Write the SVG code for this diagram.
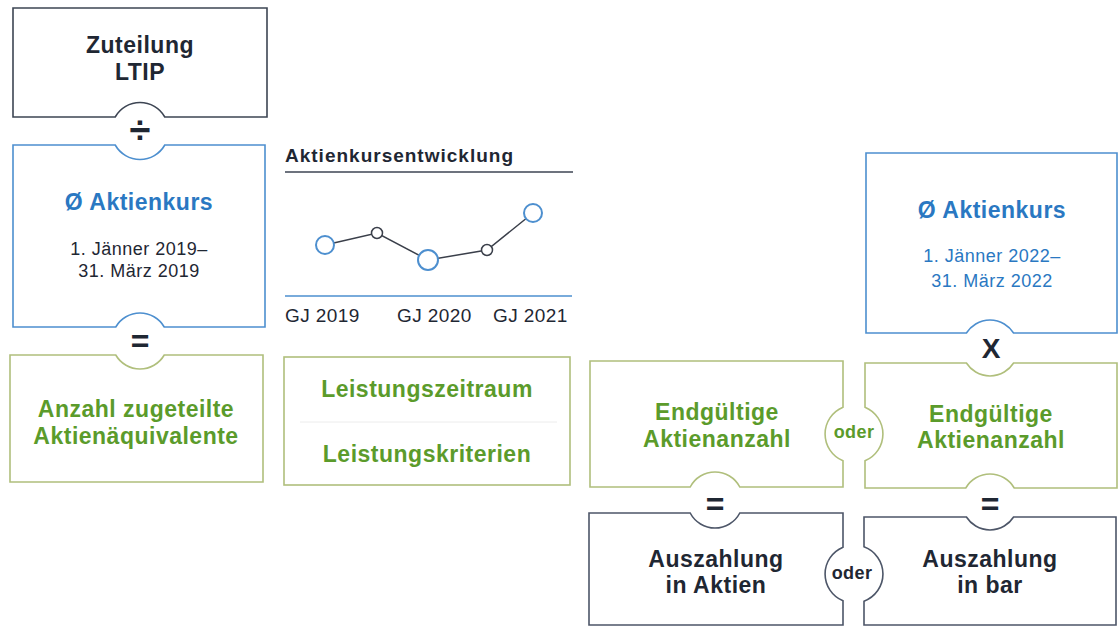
<svg xmlns="http://www.w3.org/2000/svg" width="1120" height="627" viewBox="0 0 1120 627">
<style>
  .box { fill: #ffffff; stroke-width: 1.6; }
  .dk { stroke: #3d4553; }
  .bl { stroke: #4d8fcf; }
  .gr { stroke: #b0bf7c; }
  .nv { stroke: #4d5668; }
  text { font-family: "Liberation Sans", Arial, sans-serif; text-anchor: middle; }
  .h { font-size: 23px; font-weight: bold; letter-spacing: 0.5px; }
  .s { font-size: 18px; letter-spacing: 0.5px; }
  .tdk { fill: #1f2733; }
  .tbl { fill: #2a78c2; }
  .tgr { fill: #5b9b2b; }
  .op { font-weight: bold; fill: #1f2733; }
  .oder { font-size: 18px; font-weight: bold; letter-spacing: 0.4px; }
  .gj { font-size: 19px; fill: #1f2733; text-anchor: start; letter-spacing: 0.4px; }
</style>
<rect width="1120" height="627" fill="#ffffff"/>

<g id="zuteilung">
  <path class="box dk" d="M13 8 H267 V117 H164.8 A28.5 28.5 0 0 0 115.2 117 H13 Z"/>
  <text class="h tdk" x="140" y="53">Zuteilung</text>
  <text class="h tdk" x="140" y="80">LTIP</text>
</g>

<g id="aktienkurs-2019">
  <path class="box bl" d="M13 145 H115.2 A28.5 28.5 0 0 0 164.8 145 H265 V327 H164.25 A28 28 0 0 0 115.75 327 H13 Z"/>
  <text class="h tbl" x="139" y="210">Ø Aktienkurs</text>
  <text class="s tdk" x="139" y="255">1. Jänner 2019–</text>
  <text class="s tdk" x="139" y="277">31. März 2019</text>
</g>

<g id="anzahl">
  <path class="box gr" d="M10 355 H115.75 A28 28 0 0 0 164.25 355 H263 V482 H10 Z"/>
  <text class="h tgr" x="136" y="417">Anzahl zugeteilte</text>
  <text class="h tgr" x="136" y="444">Aktienäquivalente</text>
</g>

<g id="chart">
  <text x="285" y="162" style="font-size:19px;font-weight:bold;fill:#1f2733;text-anchor:start;letter-spacing:1px">Aktienkursentwicklung</text>
  <line x1="285" y1="172" x2="573" y2="172" stroke="#3d4553" stroke-width="1.6"/>
  <polyline points="325,245 377,233 428,260 487,250 533,213" fill="none" stroke="#3a3f4a" stroke-width="1.5"/>
  <circle cx="325" cy="245" r="9" fill="#fff" stroke="#4d8fcf" stroke-width="2"/>
  <circle cx="377" cy="233" r="5.5" fill="#fff" stroke="#3a3f4a" stroke-width="1.5"/>
  <circle cx="428" cy="260" r="10" fill="#fff" stroke="#4d8fcf" stroke-width="2"/>
  <circle cx="487" cy="250" r="5.5" fill="#fff" stroke="#3a3f4a" stroke-width="1.5"/>
  <circle cx="533" cy="213" r="9" fill="#fff" stroke="#4d8fcf" stroke-width="2"/>
  <line x1="285" y1="296" x2="572" y2="296" stroke="#4d8fcf" stroke-width="1.6"/>
  <text class="gj" x="285" y="322">GJ 2019</text>
  <text class="gj" x="397" y="322">GJ 2020</text>
  <text class="gj" x="493" y="322">GJ 2021</text>
</g>

<g id="leistung">
  <rect class="box gr" x="284" y="357" width="286" height="128"/>
  <line x1="300" y1="422" x2="557" y2="422" stroke="#ececec" stroke-width="1"/>
  <text class="h tgr" x="427" y="397">Leistungszeitraum</text>
  <text class="h tgr" x="427" y="462">Leistungskriterien</text>
</g>

<g id="endgueltig-aktien">
  <path class="box gr" d="M590 361 H843 V407.2 A29 29 0 0 0 843 460.8 V487 H739.8 A28 28 0 0 0 690.2 487 H590 Z"/>
  <text class="h tgr" x="717" y="420">Endgültige</text>
  <text class="h tgr" x="717" y="447">Aktienanzahl</text>
</g>

<g id="aktienkurs-2022">
  <path class="box bl" d="M866 153 H1117 V333 H1013.6 A28 28 0 0 0 966.4 333 H866 Z"/>
  <text class="h tbl" x="992" y="218">Ø Aktienkurs</text>
  <text class="s tbl" x="992" y="262">1. Jänner 2022–</text>
  <text class="s tbl" x="992" y="287">31. März 2022</text>
</g>

<g id="endgueltig-bar">
  <path class="box gr" d="M865 363 H966.4 A28 28 0 0 0 1013.6 363 H1117 V488 H1014.25 A28 28 0 0 0 965.75 488 H865 V460.8 A29 29 0 0 0 865 407.2 Z"/>
  <text class="h tgr" x="991" y="422">Endgültige</text>
  <text class="h tgr" x="991" y="448">Aktienanzahl</text>
</g>

<g id="auszahlung-aktien">
  <path class="box nv" d="M589 513 H690.2 A28 28 0 0 0 739.8 513 H843 V547.2 A29 29 0 0 0 843 600.8 V625 H589 Z"/>
  <text class="h tdk" x="716" y="567">Auszahlung</text>
  <text class="h tdk" x="716" y="593">in Aktien</text>
</g>

<g id="auszahlung-bar">
  <path class="box nv" d="M864 517 H966.4 A28 28 0 0 0 1013.6 517 H1116 V625 H864 V601.2 A29 29 0 0 0 864 546.8 Z"/>
  <text class="h tdk" x="990" y="567">Auszahlung</text>
  <text class="h tdk" x="990" y="593">in bar</text>
</g>

<g id="connectors">
  <g id="op-divide"><text class="op" x="140" y="143" style="font-size:38px">÷</text></g>
  <g id="op-eq1"><text class="op" x="140" y="352" style="font-size:32px">=</text></g>
  <g id="op-times"><text class="op" x="991" y="358" style="font-size:28px">X</text></g>
  <g id="op-eq2"><text class="op" x="715" y="515" style="font-size:32px">=</text></g>
  <g id="op-eq3"><text class="op" x="990" y="515" style="font-size:32px">=</text></g>
  <g id="op-oder1"><text class="oder tgr" x="854" y="438">oder</text></g>
  <g id="op-oder2"><text class="oder tdk" x="852" y="579">oder</text></g>
</g>
</svg>
